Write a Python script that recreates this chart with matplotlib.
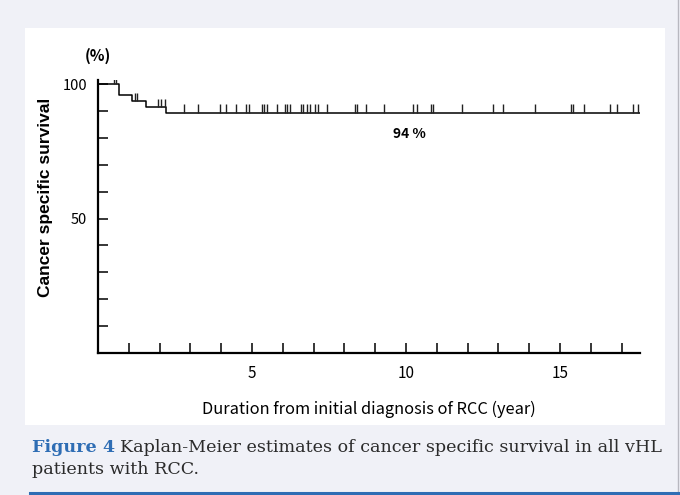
"""
Kaplan-Meier estimate of cancer specific survival, vHL patients with RCC
"""

import matplotlib.pyplot as plt
import numpy as np

W, H = 680, 495

# event times (years) and survival after each event (%)
event_t = [0.0, 0.68, 1.12, 1.55, 2.21]
event_s = [100.0, 96.0, 93.8, 91.4, 89.4]
# censored observations (years)
censor_t = [0.53, 0.60, 1.20, 1.27, 1.96, 2.04, 2.19, 2.79, 3.25, 3.96, 4.16,
            4.48, 4.81, 4.89, 5.32, 5.40, 5.48, 5.82, 6.07, 6.15, 6.22, 6.58,
            6.66, 6.78, 6.88, 7.06, 7.15, 7.44, 8.34, 8.42, 8.70, 9.30, 10.23,
            10.36, 10.80, 10.87, 11.83, 12.83, 13.16, 14.19, 15.36, 15.42,
            15.78, 16.62, 16.86, 17.38, 17.55]
t_end = 17.6

x_ticks = list(range(1, 18))
x_labels = {5: '5', 10: '10', 15: '15'}
y_ticks = list(range(10, 101, 10))
y_labels = {50: '50', 100: '100'}


def px(x, y):
    return x / W, 1 - y / H


chart_font = ['Noto Sans CJK JP', 'DejaVu Sans']

fig = plt.figure(figsize=(W / 100, H / 100), dpi=100, facecolor='#f0f1f7')

# white panel behind the chart
x0, y0 = px(25, 425)
x1, y1 = px(665, 28)
fig.patches.append(plt.Rectangle((x0, y0), x1 - x0, y1 - y0, transform=fig.transFigure,
                                 facecolor='white', edgecolor='none', zorder=-5))
# right border and blue bottom rule
fig.add_artist(plt.Line2D([678 / W, 678 / W], [0, 1], transform=fig.transFigure,
                          color='#b8b8c0', lw=1))
fig.add_artist(plt.Line2D([30 / W, 1], [1 - 492.5 / H] * 2, transform=fig.transFigure,
                          color='#2e6db4', lw=2.2))

left, bottom = px(98, 353)
right, top = px(640, 80)
ax = fig.add_axes([left, bottom, right - left, top - bottom])
ax.set_facecolor('none')
ax.set_zorder(2)

# step curve
st = event_t + [t_end]
ss = event_s + [event_s[-1]]
ax.step(st, ss, where='post', color='black', lw=1.1)

# censor marks
lv = [event_s[np.searchsorted(event_t, c, side='right') - 1] for c in censor_t]
ax.vlines(censor_t, lv, np.array(lv) + 3.0, color='#222222', lw=1.0)

ax.set_xlim(0, t_end)
ax.set_ylim(0, 101.5)

for s in ['top', 'right']:
    ax.spines[s].set_visible(False)
for s in ['left', 'bottom']:
    ax.spines[s].set_linewidth(1.6)

ax.set_xticks(x_ticks)
ax.set_xticklabels([x_labels.get(t, '') for t in x_ticks], family=chart_font, fontsize=11)
ax.set_yticks(y_ticks)
ax.set_yticklabels([y_labels.get(t, '') for t in y_ticks], family=chart_font, fontsize=10.5)
ax.tick_params(axis='both', direction='in', length=7, width=1.1, colors='black')
ax.tick_params(axis='x', pad=9)
ax.tick_params(axis='y', pad=8)

ax.set_xlabel('Duration from initial diagnosis of RCC (year)', family=chart_font,
              fontsize=11.8)
ax.xaxis.set_label_coords(0.5, -0.175)
ax.set_ylabel('Cancer specific survival', family=['Liberation Sans'], fontsize=12.5,
              fontweight='bold')
ax.yaxis.set_label_coords(-0.083, 0.571)

ax.text(0.0, 1.088, '(%)', transform=ax.transAxes, family=chart_font, fontsize=11,
        fontweight='bold', ha='center', va='center')
ax.text(10.1, 81.5, '94 %', family=chart_font, fontsize=10, fontweight='bold',
        ha='center', va='center')

# caption
cap_font = 'DejaVu Serif'
cap_size = 12.6
cx, cy = px(32, 447)
cap = fig.text(cx, cy, 'Figure 4', family=cap_font, fontsize=cap_size,
               fontweight='bold', color='#2e6db4', va='center')
fig.canvas.draw()
bb = cap.get_window_extent()
fig.text((bb.x1 + 5) / W, cy, 'Kaplan-Meier estimates of cancer specific survival in all vHL',
         family=cap_font, fontsize=cap_size, color='#2b2b2b', va='center')
fig.text(cx, 1 - 470 / H, 'patients with RCC.', family=cap_font, fontsize=cap_size,
         color='#2b2b2b', va='center')

plt.savefig('out.png', dpi=100, facecolor=fig.get_facecolor())
